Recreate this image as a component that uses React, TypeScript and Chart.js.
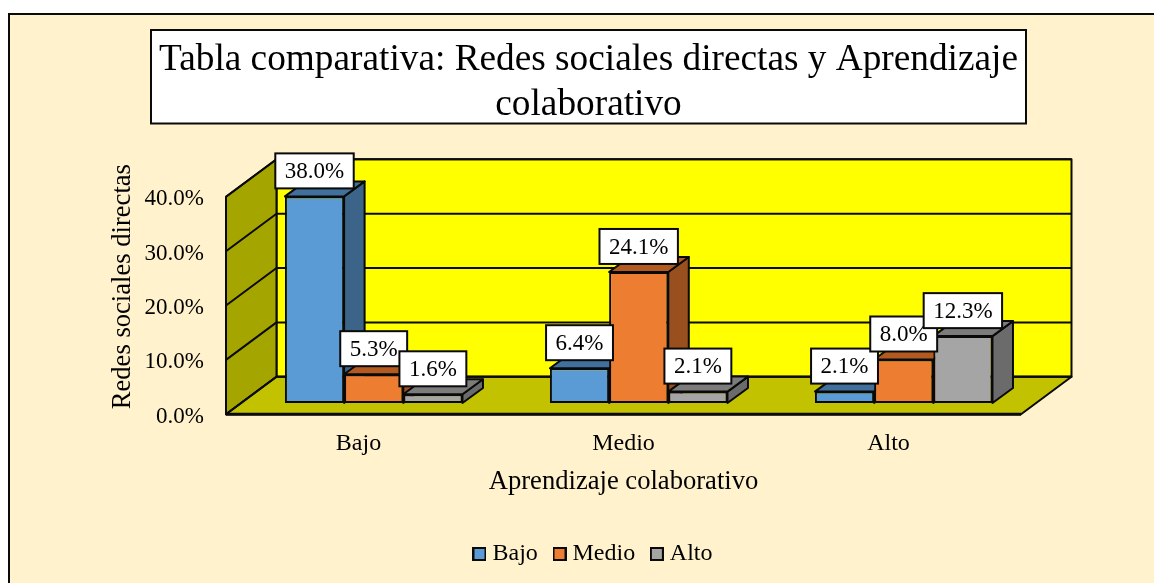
import React, { useEffect, useRef } from "react";
import { Chart, registerables } from "chart.js";

Chart.register(...registerables);

const categories = ["Bajo", "Medio", "Alto"];
const bajoValues = [38.0, 6.4, 2.1];
const medioValues = [5.3, 24.1, 8.0];
const altoValues = [1.6, 2.1, 12.3];
const seriesColors = ["#5B9BD5", "#ED7D31", "#A5A5A5"];
const sideColors = ["#3B6488", "#9A4F1E", "#6B6B6B"];
const topColors = ["#41709C", "#B35A20", "#7C7C7C"];

const WALL_DX = 50.5;
const WALL_DY = -37.5;
const BAR_DX = 15.2;
const BAR_DY = -11.3;
const DEPTH_DX = 20.5;
const DEPTH_DY = -15;
const FONT = "'Liberation Serif'";
const INK = "#0a0a0a";

function poly(ctx: CanvasRenderingContext2D, pts: number[][], fill: string, lw = 2) {
  ctx.beginPath();
  pts.forEach((p, i) => (i ? ctx.lineTo(p[0], p[1]) : ctx.moveTo(p[0], p[1])));
  ctx.closePath();
  ctx.fillStyle = fill;
  ctx.fill();
  ctx.lineWidth = lw;
  ctx.strokeStyle = INK;
  ctx.lineJoin = "round";
  ctx.stroke();
}

function legendSwatch(color: string) {
  const c = document.createElement("canvas");
  c.width = 14;
  c.height = 14;
  const g = c.getContext("2d") as CanvasRenderingContext2D;
  g.fillStyle = color;
  g.fillRect(1, 1, 12, 12);
  g.strokeStyle = INK;
  g.lineWidth = 2;
  g.strokeRect(1, 1, 12, 12);
  return c;
}

const scene = {
  id: "scene",
  afterLayout(chart: any) {
    chart.legend.left += 7;
    chart.legend.right += 7;
  },
  beforeDraw(chart: any) {
    const ctx = chart.ctx as CanvasRenderingContext2D;
    ctx.save();
    ctx.fillStyle = "#ffffff";
    ctx.fillRect(0, 0, chart.width, chart.height);
    ctx.fillStyle = "#FFF2CC";
    ctx.fillRect(9, 14, chart.width, chart.height);
    ctx.strokeStyle = INK;
    ctx.lineWidth = 2;
    ctx.beginPath();
    ctx.moveTo(9, chart.height);
    ctx.lineTo(9, 14);
    ctx.lineTo(chart.width, 14);
    ctx.stroke();
    ctx.fillStyle = "#ffffff";
    ctx.fillRect(151, 30, 875, 93.5);
    ctx.strokeRect(151, 30, 875, 93.5);
    ctx.restore();
  },
  beforeDatasetsDraw(chart: any) {
    const ctx = chart.ctx as CanvasRenderingContext2D;
    const { left, right } = chart.chartArea;
    const y = chart.scales.y;
    const y0 = y.getPixelForValue(0);
    const yTop = y.getPixelForValue(40);
    ctx.save();
    poly(ctx, [[left + WALL_DX, y0 + WALL_DY], [right + WALL_DX, y0 + WALL_DY], [right + WALL_DX, yTop + WALL_DY], [left + WALL_DX, yTop + WALL_DY]], "#FFFF00");
    poly(ctx, [[left, y0], [left + WALL_DX, y0 + WALL_DY], [left + WALL_DX, yTop + WALL_DY], [left, yTop]], "#A5A500");
    poly(ctx, [[left, y0], [right, y0], [right + WALL_DX, y0 + WALL_DY], [left + WALL_DX, y0 + WALL_DY]], "#C2C200");
    ctx.strokeStyle = INK;
    ctx.lineWidth = 2;
    y.ticks.forEach((t: any) => {
      const py = y.getPixelForValue(t.value);
      ctx.beginPath();
      ctx.moveTo(left, py);
      ctx.lineTo(left + WALL_DX, py + WALL_DY);
      ctx.lineTo(right + WALL_DX, py + WALL_DY);
      ctx.stroke();
    });
    ctx.lineWidth = 3;
    ctx.beginPath();
    ctx.moveTo(left, y0);
    ctx.lineTo(right, y0);
    ctx.stroke();
    ctx.restore();

    ctx.save();
    ctx.translate(BAR_DX, BAR_DY);
    chart.data.datasets.forEach((_: any, i: number) => {
      chart.getDatasetMeta(i).data.forEach((b: any) => {
        const l = b.x - b.width / 2;
        const r = b.x + b.width / 2;
        poly(ctx, [[r, b.y], [r + DEPTH_DX, b.y + DEPTH_DY], [r + DEPTH_DX, b.base + DEPTH_DY], [r, b.base]], sideColors[i]);
        poly(ctx, [[l, b.y], [l + DEPTH_DX, b.y + DEPTH_DY], [r + DEPTH_DX, b.y + DEPTH_DY], [r, b.y]], topColors[i]);
      });
    });
  },
  afterDatasetsDraw(chart: any) {
    const ctx = chart.ctx as CanvasRenderingContext2D;
    ctx.restore();
    ctx.save();
    ctx.font = `23px ${FONT}`;
    ctx.textAlign = "center";
    ctx.textBaseline = "middle";
    chart.data.datasets.forEach((ds: any, i: number) => {
      chart.getDatasetMeta(i).data.forEach((b: any, j: number) => {
        const text = ds.data[j].toFixed(1) + "%";
        const w = ctx.measureText(text).width + 19;
        const cx = b.x + BAR_DX;
        const cy = b.y + BAR_DY - 25.5;
        ctx.fillStyle = "#ffffff";
        ctx.fillRect(cx - w / 2, cy - 17.5, w, 35);
        ctx.strokeStyle = INK;
        ctx.lineWidth = 2;
        ctx.strokeRect(cx - w / 2, cy - 17.5, w, 35);
        ctx.fillStyle = "#000000";
        ctx.fillText(text, cx, cy + 1);
      });
    });
    ctx.restore();
  },
};

export default function App() {
  const ref = useRef<HTMLCanvasElement>(null);
  useEffect(() => {
    const swatches = seriesColors.map(legendSwatch);
    const chart = new Chart(ref.current as HTMLCanvasElement, {
      type: "bar",
      plugins: [scene],
      data: {
        labels: categories,
        datasets: [
          { label: "Bajo", data: bajoValues, backgroundColor: seriesColors[0] },
          { label: "Medio", data: medioValues, backgroundColor: seriesColors[1] },
          { label: "Alto", data: altoValues, backgroundColor: seriesColors[2] },
        ].map((d) => ({
          ...d,
          borderColor: INK,
          borderWidth: 2,
          borderSkipped: false,
          barPercentage: 1,
          categoryPercentage: 0.67,
          clip: false,
        })) as any,
      },
      options: {
        responsive: false,
        animation: false,
        events: [],
        layout: { padding: { left: 23, right: 0, top: 0, bottom: 7 } },
        plugins: {
          tooltip: { enabled: false },
          title: {
            display: true,
            text: ["Tabla comparativa: Redes sociales directas y Aprendizaje", "colaborativo"],
            font: { family: FONT, size: 37.3, weight: "normal", lineHeight: 1.2 },
            color: "#000000",
            padding: { top: 38, bottom: 31.5 },
          },
          legend: {
            position: "bottom",
            labels: {
              font: { family: FONT, size: 24 },
              color: "#000000",
              usePointStyle: true,
              pointStyleWidth: 2,
              boxHeight: 14,
              padding: 20.7,
              generateLabels(c: any) {
                const base = (Chart as any).defaults.plugins.legend.labels.generateLabels(c);
                return base.map((item: any, i: number) => ({ ...item, pointStyle: swatches[i] }));
              },
            },
          },
        },
        scales: {
          x: {
            grid: { display: false, drawTicks: false },
            border: { display: false },
            ticks: { color: "#000000", font: { family: FONT, size: 24 }, padding: 15.5 },
            title: {
              display: true,
              text: "Aprendizaje colaborativo",
              color: "#000000",
              font: { family: FONT, size: 26.6 },
              padding: { top: 0, bottom: 23.3 },
            },
            afterFit(s: any) {
              s.height = 107;
            },
          },
          y: {
            min: 0,
            max: 46.95,
            grid: { display: false, drawTicks: false },
            border: { display: false },
            afterBuildTicks(s: any) {
              s.ticks = [0, 10, 20, 30, 40].map((value) => ({ value }));
            },
            ticks: {
              color: "#000000",
              font: { family: FONT, size: 23 },
              padding: 22,
              labelOffset: 2.5,
              callback: (v: any) => Number(v).toFixed(1) + "%",
            },
            title: {
              display: true,
              text: "Redes sociales directas",
              color: "#000000",
              font: { family: FONT, size: 26.6 },
              padding: { top: 84.4, bottom: 0 },
            },
            afterFit(s: any) {
              s.width = 203;
            },
          },
          yGap: {
            position: "right",
            grid: { display: false, drawTicks: false },
            border: { display: false },
            ticks: { display: false },
            afterFit(s: any) {
              s.width = 133;
            },
          },
        },
      } as any,
    });
    return () => chart.destroy();
  }, []);
  return (
    <canvas
      ref={ref}
      width={1154}
      height={583}
      style={{ position: "absolute", left: 0, top: 0, display: "block" }}
    />
  );
}
